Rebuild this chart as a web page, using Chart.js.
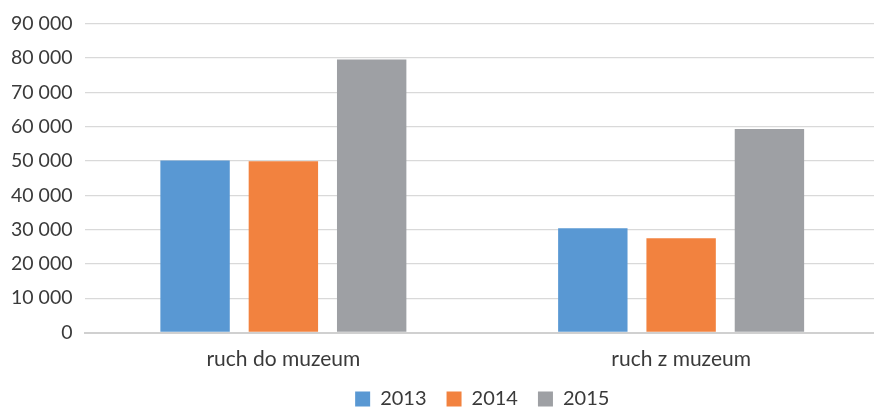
<!DOCTYPE html>
<html>
<head>
<meta charset="utf-8">
<script src="https://cdn.jsdelivr.net/npm/chart.js@4.4.1/dist/chart.umd.min.js"></script>
<style>
    html, body { margin: 0; padding: 0; background: #fff; overflow: hidden; }
    #wrap { width: 880px; height: 410px; }
</style>
</head>
<body>
<div id="wrap"><canvas id="trafficChart"></canvas></div>
<script>
/* ============================
   Datos
============================ */
const CATEGORIES = ['ruch do muzeum', 'ruch z muzeum']
const YEARS = ['2013', '2014', '2015']
const VALUES_2013 = [50100, 30400]
const VALUES_2014 = [49900, 27500]
const VALUES_2015 = [79600, 59300]
const COLORS = ['#5998D3', '#F2823F', '#9EA0A4']
const Y_MAX = 90000
const Y_STEP = 10000

const TEXT_COLOR = '#3A3A3A'
const FONT_FAMILY = 'Lato, "Open Sans", sans-serif'

// separador de miles con espacio: 90 000
const fmt = v => String(v).replace(/\B(?=(\d{3})+(?!\d))/g, ' ')

const ctx = document.getElementById('trafficChart').getContext('2d')
new Chart(ctx, {
    type: 'bar',
    data: {
        labels: CATEGORIES,
        datasets: [VALUES_2013, VALUES_2014, VALUES_2015].map((data, i) => ({
            label: YEARS[i],
            data,
            backgroundColor: COLORS[i],
            borderWidth: 0,
            categoryPercentage: 0.666,
            barPercentage: 0.786
        }))
    },
    options: {
        responsive: true,
        maintainAspectRatio: false,
        animation: false,
        layout: { padding: { top: 23, left: 0, right: 0, bottom: -9 } },
        plugins: {
            tooltip: { enabled: false },
            legend: {
                position: 'bottom',
                fullSize: false,
                labels: {
                    boxWidth: 15,
                    boxHeight: 15,
                    padding: 20,
                    color: TEXT_COLOR,
                    font: { family: FONT_FAMILY, size: 20 }
                }
            }
        },
        scales: {
            x: {
                grid: { display: false },
                border: { display: true, color: '#D0D0D0', width: 2 },
                ticks: {
                    padding: 6,
                    color: TEXT_COLOR,
                    font: { family: FONT_FAMILY, size: 21 }
                },
                afterFit: scale => { scale.height = 36.5 }
            },
            y: {
                min: 0,
                max: Y_MAX,
                grid: { color: '#D9D9D9', lineWidth: 1.3, drawTicks: false },
                border: { display: false },
                ticks: {
                    stepSize: Y_STEP,
                    padding: 12,
                    color: TEXT_COLOR,
                    font: { family: FONT_FAMILY, size: 19.5 },
                    callback: v => fmt(v)
                },
                afterFit: scale => { scale.width = 84.5 }
            }
        }
    }
})
</script>
</body>
</html>
